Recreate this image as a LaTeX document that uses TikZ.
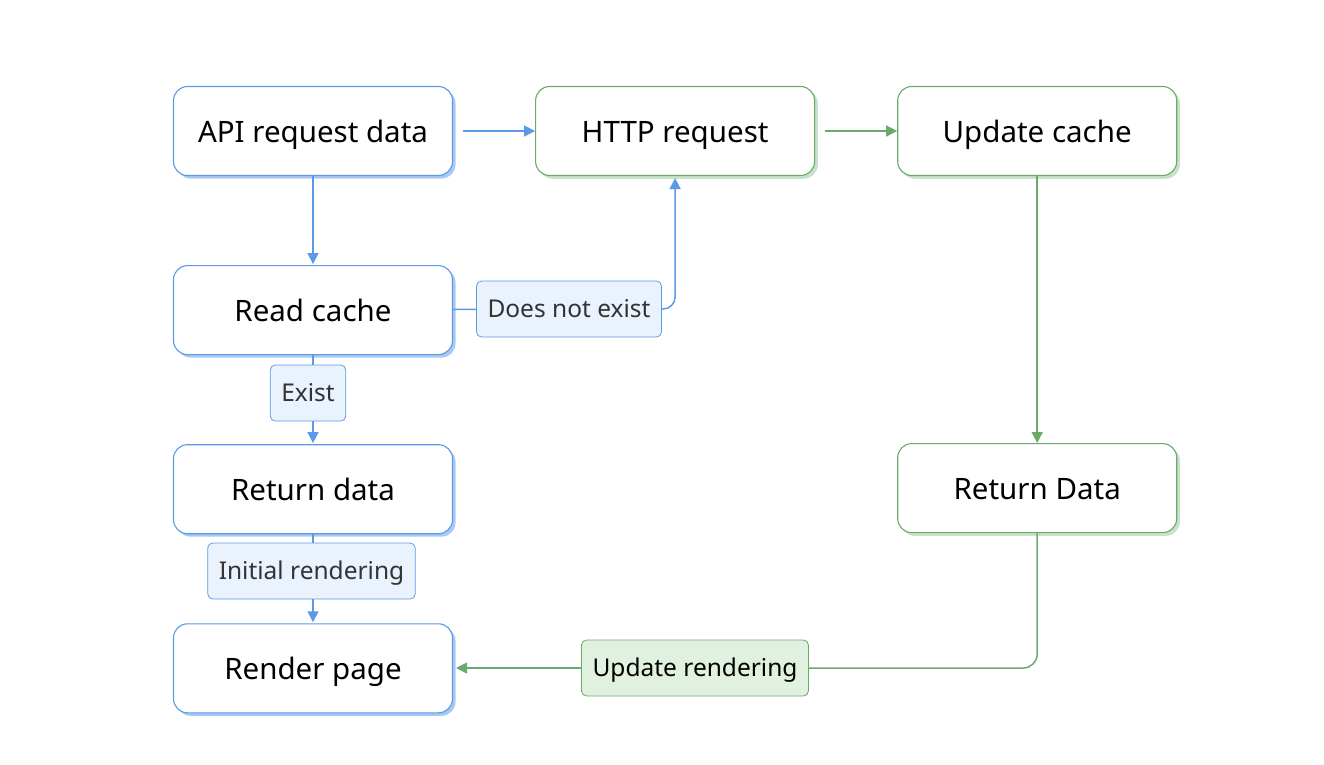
\documentclass[tikz,border=0pt]{standalone}
\usepackage{fontspec}
\setmainfont{Noto Sans}
\usetikzlibrary{positioning,arrows.meta,shadows}
\definecolor{bluebd}{HTML}{5B9AE6}
\definecolor{blueshd}{HTML}{A8CAF2}
\definecolor{bluefl}{HTML}{EAF3FD}
\definecolor{greenbd}{HTML}{6BAA68}
\definecolor{greenshd}{HTML}{C6E4C3}
\definecolor{greenfl}{HTML}{E1F1DF}
\tikzset{%
  proc/.style={draw=bluebd,fill=white,line width=1.1pt,rounded corners=14pt,
    minimum width=279pt,minimum height=89pt,inner sep=0pt,
    text height=26pt,text depth=4pt,
    font=\fontsize{29.5}{34}\selectfont,
    general shadow={fill=blueshd,shadow xshift=3pt,shadow yshift=-3pt}},
  procg/.style={proc,draw=greenbd,
    general shadow={fill=greenshd,shadow xshift=3pt,shadow yshift=-3pt}},
  tag/.style={draw=bluebd,fill=bluefl,line width=.8pt,rounded corners=5pt,
    minimum height=56pt,inner xsep=11pt,text=black!80,
    text height=20pt,text depth=4pt,
    font=\fontsize{24.5}{28}\selectfont},
  tagg/.style={tag,draw=greenbd,fill=greenfl,text=black},
  bline/.style={draw=bluebd,line width=1.5pt},
  gline/.style={draw=greenbd,line width=1.5pt},
  barrow/.style={bline,-{Triangle[length=11pt,width=11pt]}},
  garrow/.style={gline,-{Triangle[length=11pt,width=11pt]}}
}

\begin{document}
\begin{tikzpicture}[x=1pt,y=-1pt]
  \useasboundingbox (0,0) rectangle (1324,764);

  \node[proc] (api) at (313,131) {API request data};
  \node[procg,right=82pt of api] (http) {HTTP request};
  \node[procg,right=82pt of http] (upcache) {Update cache};
  \node[proc,below=89pt of api] (read) {Read cache};
  \node[proc,below=89pt of read] (retdata) {Return data};
  \node[proc,below=89pt of retdata] (render) {Render page};
  \node[procg,below=267pt of upcache] (retDATA) {Return Data};

  \node[tag] (noexist) at (569,309) {Does not exist};
  \node[tag] (exist) at (308,393) {Exist};
  \node[tag] (initrend) at (311.5,571) {Initial rendering};
  \node[tagg] (uprend) at (695,668) {Update rendering};

  \draw[barrow,shorten <=10pt] (api) -- (http);
  \draw[garrow,shorten <=10pt] (http) -- (upcache);
  \draw[barrow,shorten >=1pt] (api) -- (read);
  \draw[bline] (read) -- (noexist);
  \draw[barrow,rounded corners=12pt,shorten >=2pt] (noexist.east) -| (http.south);
  \draw[bline] (read.south) -- (read.south |- exist.north);
  \draw[barrow,shorten >=1pt] (read.south |- exist.south) -- (retdata.north);
  \draw[bline] (retdata.south) -- (retdata.south |- initrend.north);
  \draw[barrow,shorten >=1pt] (retdata.south |- initrend.south) -- (render.north);
  \draw[garrow] (upcache) -- (retDATA);
  \draw[gline,rounded corners=14pt] (retDATA.south) |- (uprend.east);
  \draw[garrow,shorten >=3pt] (uprend.west) -- (render.east |- uprend.west);
\end{tikzpicture}
\end{document}
